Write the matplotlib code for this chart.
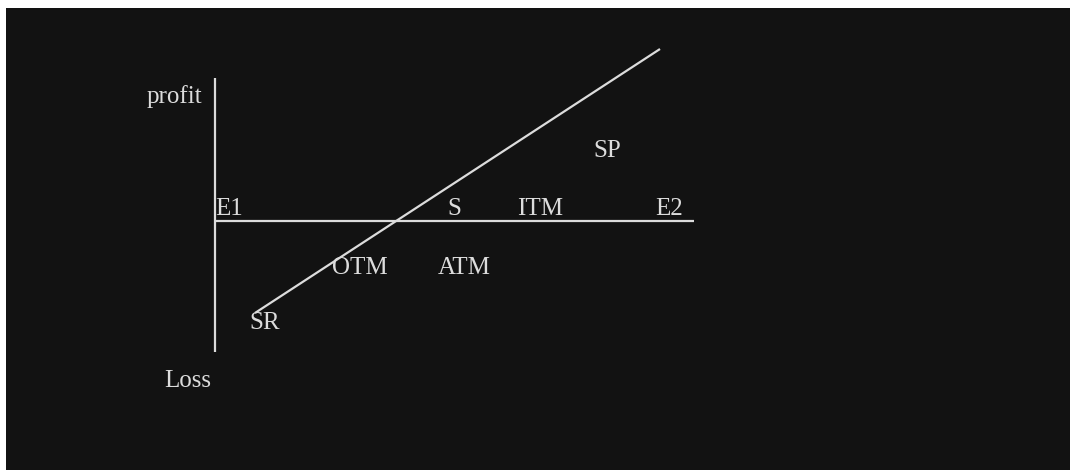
import matplotlib.pyplot as plt
from matplotlib.patches import Rectangle

plt.rcParams['font.family'] = ['Liberation Serif', 'DejaVu Serif']

# canvas in pixel units (y grows downward)
W, H = 1070, 470

# axes of the payoff sketch
v_axis_x = 215
v_axis_y = [78, 352]
h_axis_y = 221
h_axis_x = [215, 694]

# payoff line end points
payoff_x = [255, 660]
payoff_y = [313, 49]

# labels and their anchors
labels = ["profit", "Loss", "E1", "S", "ITM", "E2", "SP", "OTM", "ATM", "SR"]
label_x = [147, 164, 215, 447, 517, 655, 593, 332, 438, 249]
label_y = [97, 381, 209, 209, 209, 209, 151, 268, 268, 323]

fg = "#dcdcdc"
bg = "#121212"

fig = plt.figure(figsize=(W / 100, H / 100), dpi=100)
fig.patch.set_facecolor("white")
ax = fig.add_axes([0, 0, 1, 1])
ax.set_xlim(0, W)
ax.set_ylim(H, 0)
ax.axis("off")

ax.add_patch(Rectangle((6, 8), W, H, facecolor=bg, edgecolor="none"))

ax.plot([v_axis_x, v_axis_x], v_axis_y, color=fg, lw=1.6, solid_capstyle="butt")
ax.plot(h_axis_x, [h_axis_y, h_axis_y], color=fg, lw=1.6, solid_capstyle="butt")
ax.plot(payoff_x, payoff_y, color=fg, lw=1.6, solid_capstyle="butt")

for text, x, y in zip(labels, label_x, label_y):
    ax.text(x, y, text, color=fg, fontsize=18, ha="left", va="center")

fig.savefig("out.png", dpi=100, facecolor=fig.get_facecolor())
